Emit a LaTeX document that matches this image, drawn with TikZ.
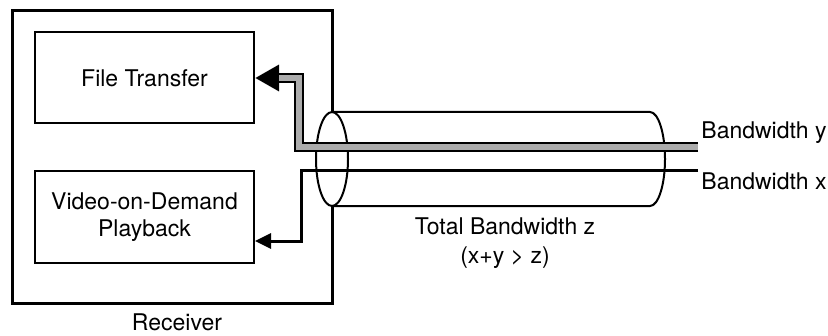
\documentclass[tikz,border=0pt]{standalone}
\usepackage{fontspec}
\setmainfont{TeX Gyre Heros}
\usetikzlibrary{positioning,arrows.meta,calc}

\begin{document}
\begin{tikzpicture}[x=0.5pt,y=-0.5pt,
        lbl/.style={font=\fontsize{11.5}{13.5}\selectfont},
        appbox/.style={draw,line width=1pt,minimum width=109.5pt,minimum height=45.5pt,align=center,inner sep=0pt,lbl},
        pipe/.style={line width=1pt}]
        \useasboundingbox (0,0) rectangle (828,336);

        % receiver side
        \node[draw,line width=1.5pt,minimum width=160pt,minimum height=146pt,inner sep=0pt] (rcv) at (172,157) {};
        \node[lbl,inner sep=1pt] (rcvlbl) at (177,322) {Receiver};

        \node[appbox] (ft) at (144.5,78) {File Transfer};
        \node[appbox] (vod) at (144.5,217) {Video-on-Demand\\Playback};

        % the cable
        \coordinate (cylL) at (332,159);
        \coordinate (cylR) at (650,159);
        \filldraw[pipe,fill=white] (cylL) ellipse [x radius=8pt, y radius=23.5pt];
        \draw[pipe] (332,112) -- (650,112)
            arc[start angle=90, end angle=-90, x radius=7.5pt, y radius=23.5pt] -- (332,206);

        % bandwidth y (thick)
        \coordinate (yend) at (698,147);
        \coordinate (ybend) at (299,147);
        \draw[line width=5pt,-{Triangle[length=12pt,width=12.5pt]}]
            (yend) -- (ybend) -- (ybend |- ft.east) -- (ft.east);
        \draw[line width=2.8pt,gray!65] (yend) -- (ybend) -- (ybend |- ft.east) -- ++(-20,0);

        % bandwidth x (thin)
        \coordinate (xend) at (698,171);
        \coordinate (xbend) at (301,171);
        \coordinate (xdrop) at (301,241);
        \draw[line width=1.5pt,-{Triangle[length=8pt,width=7.5pt]}]
            (xend) -- (xbend) -- (xdrop) -- (vod.east |- xdrop);

        \node[lbl,anchor=west,inner sep=1pt] (bwy) at (699,133) {Bandwidth y};
        \node[lbl,anchor=west,inner sep=1pt] (bwx) at (699,181) {Bandwidth x};
        \node[align=center,font=\fontsize{11.5}{14.5}\selectfont] (tot) at (505,243) {Total Bandwidth z\\(x+y > z)};
    \end{tikzpicture}
\end{document}
